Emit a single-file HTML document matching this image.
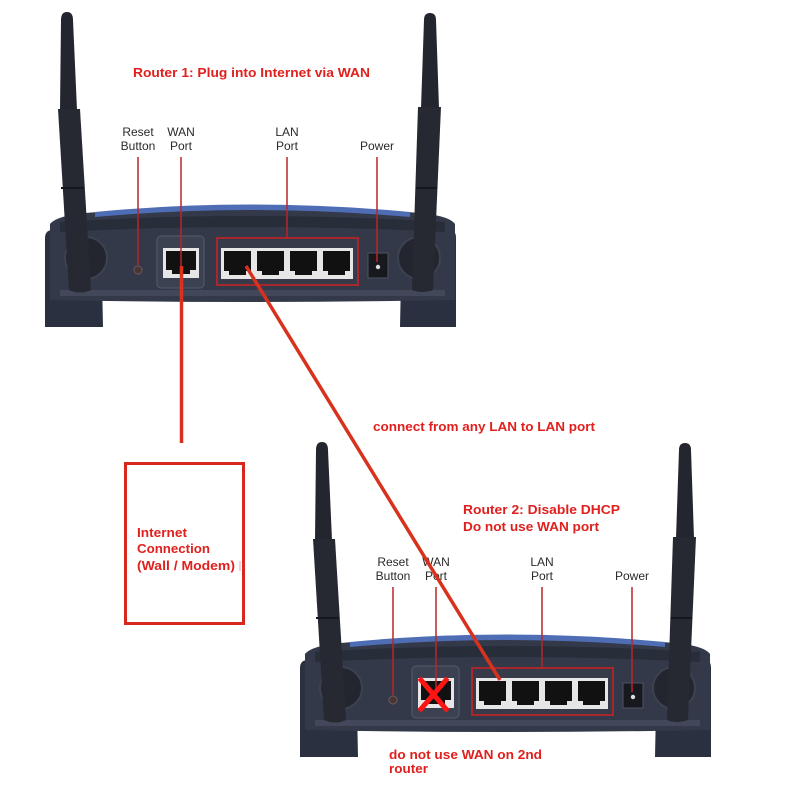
<!DOCTYPE html>
<html><head><meta charset="utf-8"><style>
html,body{margin:0;padding:0;background:#fff;}
svg{display:block;}
text{font-family:"Liberation Sans",Arial,sans-serif;}
.lbl{font-size:12px;fill:#2a2a2a;text-anchor:middle;}
.red{font-size:13px;font-weight:bold;fill:#e0201e;}
</style></head><body>
<svg width="800" height="800" viewBox="0 0 800 800" xmlns="http://www.w3.org/2000/svg">
<defs>
<g id="rt">
  <!-- feet -->
  <path d="M45 238 Q45 230 53 230 L101 232 L103 327 L45 327 Z" fill="#2b3040"/>
  <path d="M402 232 L450 230 Q456 230 456 238 L456 327 L400 327 Z" fill="#2b3040"/>
  <!-- main body -->
  <path d="M50 224 Q58 214 100 212 Q250 198 405 212 Q448 214 455 224 L455 300 Q250 304 50 300 Z" fill="#333949"/>
  <path d="M95 212 Q250 197 410 212 L410 217 Q250 203 95 217 Z" fill="#4f6db5"/>
  <path d="M60 222 Q250 210 445 222 L445 232 Q250 222 60 232 Z" fill="#282d3a"/>
  <rect x="60" y="290" width="385" height="6" fill="#424859"/>
  <!-- antenna bases -->
  <circle cx="86" cy="258" r="21" fill="#23262f"/>
  <circle cx="86" cy="258" r="21" fill="none" stroke="#3d4250" stroke-width="2"/>
  <circle cx="419" cy="258" r="21" fill="#23262f"/>
  <circle cx="419" cy="258" r="21" fill="none" stroke="#3d4250" stroke-width="2"/>
  <!-- WAN -->
  <rect x="157" y="236" width="47" height="52" rx="4" fill="#3b4151" stroke="#545a6b" stroke-width="1"/>
  <rect x="163" y="248" width="36" height="30" fill="#e6e6e6"/>
  <path d="M166 251 H196 V270 H190 V274 H172 V270 H166 Z" fill="#111"/>
  <!-- LAN -->
  <rect x="217" y="238" width="141" height="47" fill="#363a49" stroke="#a8272d" stroke-width="2"/>
  <rect x="221" y="248" width="132" height="31" fill="#e6e6e6"/>
  <path d="M224 251 H251 V271 H246 V275 H229 V271 H224 Z" fill="#111"/>
  <path d="M257 251 H284 V271 H279 V275 H262 V271 H257 Z" fill="#111"/>
  <path d="M290 251 H317 V271 H312 V275 H295 V271 H290 Z" fill="#111"/>
  <path d="M323 251 H350 V271 H345 V275 H328 V271 H323 Z" fill="#111"/>
  <!-- power -->
  <rect x="368" y="253" width="20" height="25" fill="#17191f" stroke="#4d5260" stroke-width="1"/>
  <circle cx="378" cy="267" r="2.2" fill="#ddd"/>
  <!-- reset -->
  <circle cx="138" cy="270" r="4" fill="#4a3436" stroke="#6e5a5a" stroke-width="1"/>
  <!-- antennas -->
  <path d="M61 20 Q61 12 67 12 Q73 12 73 20 L77 110 L60 110 Z" fill="#23262e"/>
  <path d="M58 109 L80 109 L91 290 Q80 295 69 290 Z" fill="#262932"/>
  <path d="M61 188 L84 188" stroke="#15171c" stroke-width="2"/>
  <path d="M424 20 Q424 13 430 13 Q436 13 436 20 L439 108 L421 108 Z" fill="#23262e"/>
  <path d="M418 107 L441 107 L433 290 Q422 294 412 290 Z" fill="#262932"/>
  <path d="M416 188 L437 188" stroke="#15171c" stroke-width="2"/>
  <!-- label pointer lines -->
  <g stroke="#b8262a" stroke-width="1.5">
    <line x1="138" y1="157" x2="138" y2="265"/>
    <line x1="181" y1="157" x2="181" y2="268"/>
    <line x1="287" y1="157" x2="287" y2="238"/>
    <line x1="377" y1="157" x2="377" y2="262"/>
  </g>
</g>
</defs>

<use href="#rt"/>
<use href="#rt" transform="translate(255,430)"/>

<!-- router 1 labels -->
<text class="lbl" x="138" y="136">Reset</text>
<text class="lbl" x="138" y="150">Button</text>
<text class="lbl" x="181" y="136">WAN</text>
<text class="lbl" x="181" y="150">Port</text>
<text class="lbl" x="287" y="136">LAN</text>
<text class="lbl" x="287" y="150">Port</text>
<text class="lbl" x="377" y="150">Power</text>

<!-- router 2 labels -->
<text class="lbl" x="393" y="566">Reset</text>
<text class="lbl" x="393" y="580">Button</text>
<text class="lbl" x="436" y="566">WAN</text>
<text class="lbl" x="436" y="580">Port</text>
<text class="lbl" x="542" y="566">LAN</text>
<text class="lbl" x="542" y="580">Port</text>
<text class="lbl" x="632" y="580">Power</text>

<!-- red texts -->
<text class="red" x="133" y="77" textLength="237" lengthAdjust="spacingAndGlyphs">Router 1: Plug into Internet via WAN</text>
<text class="red" x="373" y="431" textLength="222" lengthAdjust="spacingAndGlyphs">connect from any LAN to LAN port</text>
<text class="red" x="463" y="514" textLength="157" lengthAdjust="spacingAndGlyphs">Router 2: Disable DHCP</text>
<text class="red" x="463" y="531" textLength="136" lengthAdjust="spacingAndGlyphs">Do not use WAN port</text>
<text class="red" x="389" y="759" textLength="153" lengthAdjust="spacingAndGlyphs">do not use WAN on 2nd</text>
<text class="red" x="389" y="773" textLength="39" lengthAdjust="spacingAndGlyphs">router</text>
<text class="red" x="137" y="537" textLength="50" lengthAdjust="spacingAndGlyphs">Internet</text>
<text class="red" x="137" y="553" textLength="73" lengthAdjust="spacingAndGlyphs">Connection</text>
<text class="red" x="137" y="570" textLength="98" lengthAdjust="spacingAndGlyphs">(Wall / Modem)</text>
<line x1="240" y1="561" x2="240" y2="571" stroke="#e8a0a0" stroke-width="1"/>

<!-- internet box -->
<rect x="125.5" y="463.5" width="118" height="160" fill="none" stroke="#d8281e" stroke-width="3"/>

<!-- thick connector lines -->
<line x1="181.5" y1="266" x2="181.5" y2="443" stroke="#d8321e" stroke-width="3.5"/>
<line x1="246" y1="266" x2="500" y2="680" stroke="#d8321e" stroke-width="3.5"/>

<!-- X on router 2 WAN -->
<g stroke="#ff1414" stroke-width="5" stroke-linecap="square">
  <line x1="421" y1="680" x2="446" y2="709"/>
  <line x1="446" y1="680" x2="421" y2="709"/>
</g>
</svg>
</body></html>
